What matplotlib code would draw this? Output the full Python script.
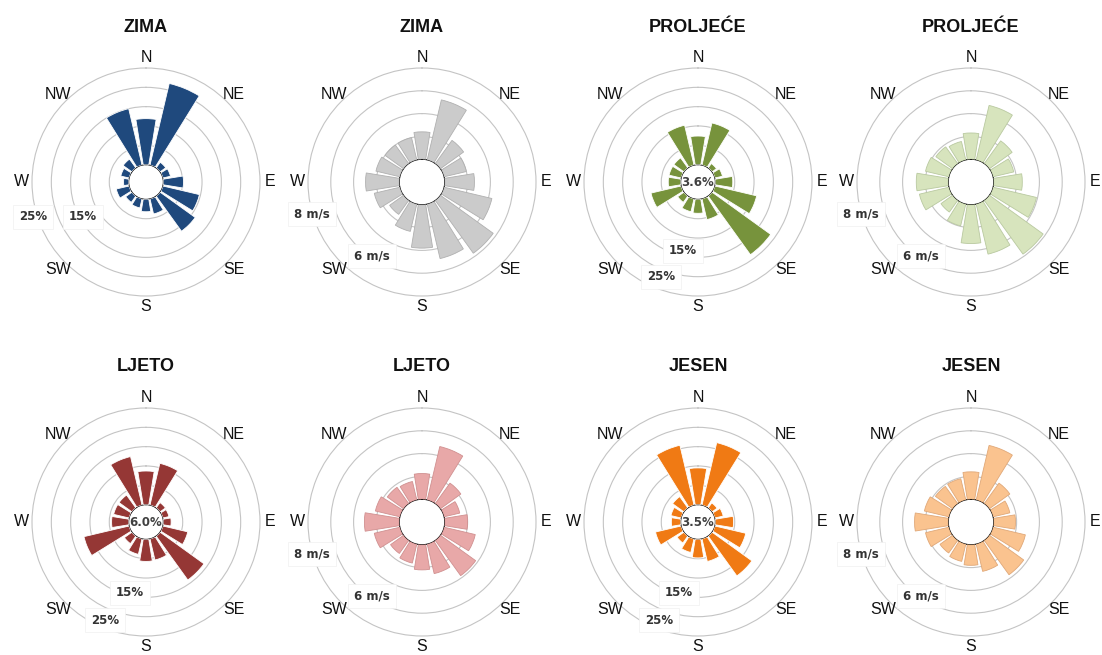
import numpy as np
from matplotlib import pyplot as plt

# 16 directions, clockwise from N
dirs = ['N', 'NNE', 'NE', 'ENE', 'E', 'ESE', 'SE', 'SSE',
        'S', 'SSW', 'SW', 'WSW', 'W', 'WNW', 'NW', 'NNW']
compass = ['N', 'NE', 'E', 'SE', 'S', 'SW', 'W', 'NW']
titles = ['ZIMA', 'ZIMA', 'PROLJEĆE', 'PROLJEĆE', 'LJETO', 'LJETO', 'JESEN', 'JESEN']

# frequency (%) per direction
freq_zima = [11.9, 21.7, 1.8, 2.0, 5.2, 9.7, 11.2, 4.0, 3.2, 2.4, 2.0, 3.4, 1.3, 2.2, 2.8, 15.0]
freq_proljece = [7.4, 11.2, 1.4, 2.0, 4.5, 11.1, 18.7, 5.5, 3.6, 3.4, 2.0, 8.0, 3.2, 3.2, 3.2, 10.6]
freq_ljeto = [8.7, 11.1, 1.7, 1.6, 2.0, 6.6, 14.0, 5.6, 5.7, 4.1, 2.4, 12.0, 4.4, 4.1, 4.1, 12.9]
freq_jesen = [9.5, 16.6, 1.6, 2.2, 4.7, 8.2, 12.7, 6.0, 4.8, 3.6, 2.2, 6.8, 2.4, 2.7, 3.6, 15.9]

# mean speed (m/s) per direction
speed_zima = [2.4, 5.4, 2.5, 2.0, 2.6, 4.3, 5.7, 4.9, 3.8, 2.45, 1.5, 2.3, 2.95, 2.15, 2.0, 2.0]
speed_proljece = [2.3, 4.9, 2.45, 1.85, 2.5, 3.9, 5.8, 4.5, 3.4, 1.95, 1.25, 2.65, 2.8, 2.1, 1.8, 1.65]
speed_ljeto = [2.25, 4.8, 2.2, 1.4, 2.0, 2.8, 3.8, 2.65, 2.2, 1.7, 1.4, 2.3, 3.05, 2.2, 1.75, 1.65]
speed_jesen = [2.4, 4.9, 2.2, 1.5, 1.9, 2.9, 3.7, 2.45, 1.8, 1.55, 1.35, 2.1, 2.95, 2.2, 1.85, 1.9]

calms = [None, '3.6%', '6.0%', '3.5%']

freq_colors = ['#1F497D', '#77933C', '#953735', '#F07A14']
speed_colors = ['#CBCBCB', '#D7E4BD', '#E8A8A8', '#FAC38F']
speed_edges = ['#B0B0B0', '#B9C9A0', '#D09090', '#E0A878']

W, H = 1102, 655
fig = plt.figure(figsize=(W / 100, H / 100), dpi=100)
plt.rcParams['font.family'] = ['Liberation Sans', 'DejaVu Sans']

col_x = [146, 422, 698, 971]
row_y = [182, 522]
R = 114

freq_data = [freq_zima, freq_proljece, freq_ljeto, freq_jesen]
speed_data = [speed_zima, speed_proljece, speed_ljeto, speed_jesen]
theta = np.deg2rad(np.arange(16) * 22.5)
width = np.deg2rad(22.5) * 0.82


def rose(ax, vals, rmax, rorig, ticks, color, edge, lw):
    ax.set_theta_zero_location('N')
    ax.set_theta_direction(-1)
    ax.set_rorigin(rorig)
    ax.set_ylim(0, rmax)
    ax.set_yticks(ticks)
    ax.set_yticklabels([])
    ax.set_xticks([])
    ax.grid(True, axis='y', color='#C4C4C4', lw=0.8)
    for gl in ax.yaxis.get_gridlines():
        gl.set_clip_on(False)
    ax.spines['polar'].set_visible(False)
    ax.set_facecolor('none')
    ax.bar(theta, vals, width=width, bottom=0, color=color, edgecolor=edge,
           linewidth=lw, zorder=3)
    rl = rorig + 1.09 * (rmax - rorig)
    for i, c in enumerate(compass):
        ax.text(np.deg2rad(i * 45), rl, c, ha='center', va='center',
                fontsize=11.5, color='#111111', clip_on=False)


def box_label(ax, dx, dy, s):
    ax.text(0.5 + dx / (2 * R), 0.5 - dy / (2 * R), s, transform=ax.transAxes,
            ha='center', va='center', fontsize=8.5, fontweight='bold',
            family='DejaVu Sans', color='#333333', zorder=5,
            bbox=dict(facecolor='white', edgecolor='#F0F0F0', lw=0.5,
                      boxstyle='square,pad=0.5'))


# label offsets (pixels from centre) for the range labels
freq_lab = [[(-113, 35, '25%'), (-63, 35, '15%')],
            [(-15, 69, '15%'), (-37, 95, '25%')],
            [(-16, 71, '15%'), (-41, 98, '25%')],
            [(-19, 71, '15%'), (-39, 98, '25%')]]
speed_lab = [(-110, 32, '8 m/s'), (-50, 74, '6 m/s')]

for k in range(4):
    r, c = divmod(k, 2)
    for j in range(2):
        cx = col_x[2 * c + j]
        cy = row_y[r]
        ax = fig.add_axes([(cx - R) / W, 1 - (cy + R) / H, 2 * R / W, 2 * R / H],
                          projection='polar')
        if j == 0:
            rose(ax, freq_data[k], 25, -4.5, [5, 10, 15, 20, 25],
                 freq_colors[k], 'white', 0.6)
            for dx, dy, s in freq_lab[k]:
                box_label(ax, dx, dy, s)
            if calms[k]:
                ax.text(0.5, 0.5, calms[k], transform=ax.transAxes, ha='center',
                        va='center', fontsize=8.5, fontweight='bold',
                        family='DejaVu Sans', color='#404040', zorder=5)
        else:
            rose(ax, speed_data[k], 8, -2.0, [2, 4, 6, 8],
                 speed_colors[k], speed_edges[k], 0.6)
            for dx, dy, s in speed_lab:
                box_label(ax, dx, dy, s)
        ty = 28 if r == 0 else 367
        fig.text(cx / W, 1 - ty / H, titles[2 * k + j], ha='center', va='center',
                 fontsize=13, fontweight='bold', color='#111111')

fig.savefig('out.png', dpi=100)
